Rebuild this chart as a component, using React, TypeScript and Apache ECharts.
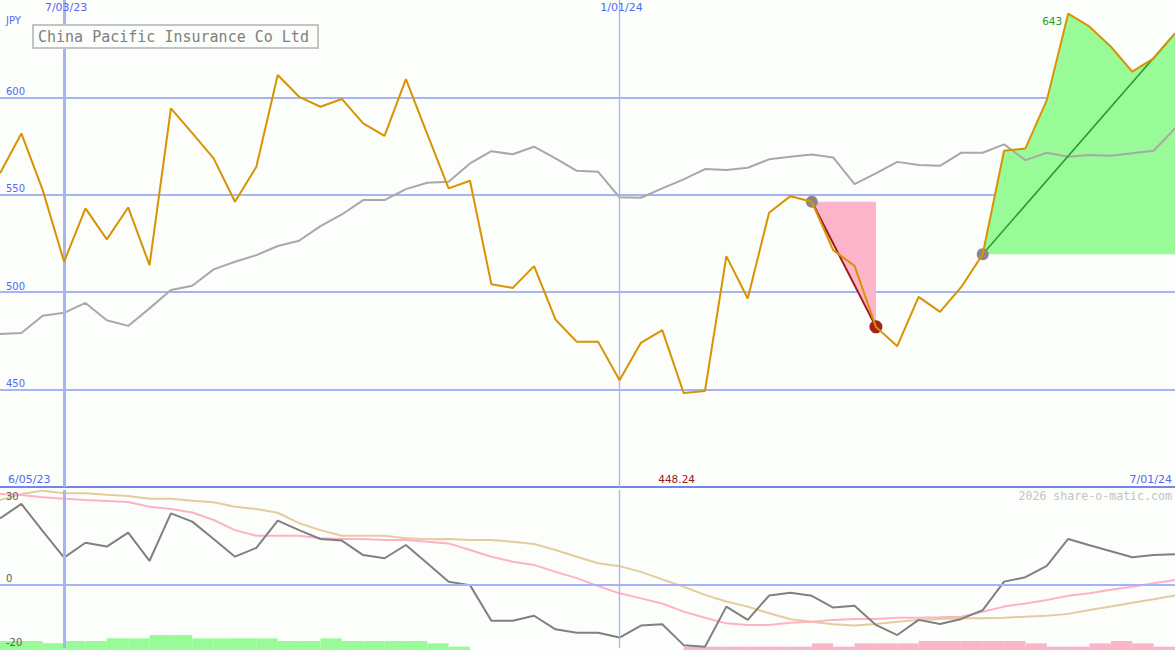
import React, { useEffect, useRef } from 'react';
import * as echarts from 'echarts';

const dates = [
  '6/12/23', '6/19/23', '6/26/23', '7/03/23', '7/10/23', '7/17/23', '7/24/23', '7/31/23',
  '8/07/23', '8/14/23', '8/21/23', '8/28/23', '9/04/23', '9/11/23', '9/18/23', '9/25/23',
  '10/02/23', '10/09/23', '10/16/23', '10/23/23', '10/30/23', '11/06/23', '11/13/23', '11/20/23',
  '11/27/23', '12/04/23', '12/11/23', '12/18/23', '12/25/23', '1/01/24', '1/08/24', '1/15/24',
  '1/22/24', '1/29/24', '2/05/24', '2/12/24', '2/19/24', '2/26/24', '3/04/24', '3/11/24',
  '3/18/24', '3/25/24', '4/01/24', '4/08/24', '4/15/24', '4/22/24', '4/29/24', '5/06/24',
  '5/13/24', '5/20/24', '5/27/24', '6/03/24', '6/10/24', '6/17/24', '6/24/24', '7/01/24',
];

const price = [
  561.0, 581.5, 552.4, 515.6, 543.0, 527.1, 543.5, 513.9, 594.4, 581.7,
  568.7, 546.4, 564.4, 611.5, 600.3, 595.2, 599.2, 586.7, 580.3, 609.4,
  581.2, 553.3, 557.2, 504.1, 502.2, 513.4, 486.0, 474.5, 474.5, 454.8,
  474.0, 480.5, 448.24, 449.3, 518.5, 496.8, 540.8, 549.3, 546.4, 521.6,
  513.5, 482.2, 472.3, 497.6, 489.9, 502.7, 519.5, 572.6, 573.8, 598.6,
  643.0, 636.3, 626.0, 613.2, 620.0, 632.9,
];

const average = [
  478.5, 479.1, 487.9, 489.4, 494.5, 485.6, 482.7, 491.7, 501.1, 503.3,
  511.7, 515.6, 519.0, 523.7, 526.4, 533.9, 539.9, 547.3, 547.3, 552.9,
  556.2, 556.7, 566.1, 572.4, 570.8, 574.7, 568.7, 562.3, 561.8, 548.7,
  548.5, 553.3, 557.9, 563.2, 562.7, 563.9, 568.2, 569.5, 570.7, 569.2,
  555.5, 561.0, 566.9, 565.3, 564.9, 571.6, 571.6, 575.9, 567.8, 571.6,
  569.5, 570.4, 570.0, 571.3, 572.6, 584.1,
];

const oscFast = [
  21.0, 25.6, 17.0, 8.6, 13.3, 12.1, 16.5, 7.6, 22.6, 20.0,
  14.5, 8.9, 11.7, 20.3, 17.3, 14.5, 14.0, 9.4, 8.4, 12.6,
  6.8, 1.0, -0.1, -11.4, -11.4, -9.8, -14.1, -15.2, -15.2, -16.7,
  -12.9, -12.5, -19.1, -19.6, -6.9, -11.1, -3.4, -2.5, -3.5, -7.2,
  -6.6, -12.7, -15.9, -11.1, -12.4, -10.8, -8.0, 1.0, 2.4, 6.0,
  14.5, 12.5, 10.6, 8.7, 9.4, 9.7,
];

const oscPink = [
  28.7, 28.4, 27.7, 27.2, 26.8, 26.5, 26.2, 24.7, 24.0, 22.9,
  20.5, 17.3, 15.5, 15.5, 15.5, 14.7, 14.5, 14.5, 14.2, 14.2,
  13.6, 13.1, 11.0, 8.9, 7.3, 6.3, 4.1, 2.1, -0.4, -2.7,
  -4.3, -5.9, -8.5, -10.4, -12.2, -12.7, -12.7, -12.0, -11.7, -11.1,
  -10.8, -10.8, -10.4, -10.4, -10.3, -10.1, -8.5, -6.9, -5.9, -4.8,
  -3.5, -2.7, -1.6, -0.6, 0.5, 1.5,
];

const oscTan = [
  26.8, 28.7, 29.8, 29.0, 29.0, 28.5, 28.1, 27.2, 27.2, 26.6,
  26.1, 24.7, 24.0, 22.8, 19.5, 17.3, 15.5, 15.5, 15.5, 14.7,
  14.4, 14.5, 14.2, 14.2, 13.6, 12.9, 11.0, 8.9, 6.8, 5.9,
  4.1, 1.7, -0.6, -3.2, -5.3, -6.9, -9.0, -10.9, -11.7, -12.5,
  -12.9, -12.4, -11.7, -11.1, -10.8, -10.6, -10.6, -10.4, -10.1, -9.8,
  -9.2, -8.0, -6.9, -5.7, -4.6, -3.4,
];

// weekly histogram steps, one per interval between two dates
const histGreen = [
  2.7, 2.7, 2, 2.7, 2.7, 3.5, 3.5, 4.5, 4.5, 3.5,
  3.5, 3.5, 3.5, 2.7, 2.7, 3.5, 2.7, 2.7, 2.7, 2.7,
  2, 1, 0, 0, 0, 0, 0, 0, 0, 0,
  0, 0, 0, 0, 0, 0, 0, 0, 0, 0,
  0, 0, 0, 0, 0, 0, 0, 0, 0, 0,
  0, 0, 0, 0, 0,
];
const histPink = [
  0, 0, 0, 0, 0, 0, 0, 0, 0, 0,
  0, 0, 0, 0, 0, 0, 0, 0, 0, 0,
  0, 0, 0, 0, 0, 0, 0, 0, 0, 0,
  0, 0, 1, 1, 1, 1, 1, 1, 2, 1,
  2, 2, 2, 2.7, 2.7, 2.7, 2.7, 2.7, 2, 1,
  1, 2, 2.7, 2, 1,
];

const yTicks = [450, 500, 550, 600];
const oscTicks = [30, 0, -20];
const markedDates = ['7/03/23', '1/01/24'];
const rangeStart = '6/05/23';
const rangeEnd = '7/01/24';
const title = 'China Pacific Insurance Co Ltd';
const currency = 'JPY';
const watermark = '2026 share-o-matic.com';

const dropFrom = 38;
const dropTo = 41;
const riseFrom = 46;
const riseTo = 55;

const BLUE = '#5468f0';
const GRID = '#a8b4f2';
const BG = '#fbfefb';
const LABEL_FONT = 'DejaVu Sans';

export default function App() {
  const ref = useRef<HTMLDivElement>(null);

  useEffect(() => {
    if (!ref.current) return;
    const chart = echarts.init(ref.current, undefined, { renderer: 'svg' });

    const bins = dates.slice(1);
    const maxIdx = price.indexOf(Math.max(...price));
    const minIdx = price.indexOf(Math.min(...price));
    const maxVal = price[maxIdx];
    const minVal = price[minIdx];

    const riseArea: number[][] = [];
    for (let i = riseFrom; i <= riseTo; i++) riseArea.push([i, price[i]]);
    riseArea.push([riseTo, price[riseFrom]]);

    const dropArea = [
      [dropFrom, price[dropFrom]],
      [dropTo, price[dropFrom]],
      [dropTo, price[dropTo]],
    ];

    const polygonSeries = (pts: number[][], color: string) => ({
      type: 'custom',
      xAxisIndex: 0,
      yAxisIndex: 0,
      z: 1,
      silent: true,
      data: [pts[0]],
      renderItem: (params: any, api: any) => {
        if (params.dataIndex !== 0) return null;
        return {
          type: 'polygon',
          shape: { points: pts.map((p) => api.coord(p)) },
          style: { fill: color },
        };
      },
    });

    const vLines = () =>
      markedDates.map((d, k) => ({
        xAxis: d,
        lineStyle: { color: GRID, width: k === 0 ? 3 : 1.3, type: 'solid', opacity: 1 },
      }));

    const option: any = {
      animation: false,
      backgroundColor: BG,
      grid: [
        { left: 0, top: 0, width: 1175, height: 487, outerBoundsMode: 'none' },
        { left: 0, top: 490, width: 1175, height: 158, outerBoundsMode: 'none' },
        { left: 0, top: 487, width: 1175, height: 163, outerBoundsMode: 'none' },
      ],
      xAxis: [
        {
          type: 'category', gridIndex: 0, data: dates, boundaryGap: false, position: 'top',
          axisLine: { show: false }, axisTick: { show: false }, splitLine: { show: false },
          axisLabel: { show: false },
        },
        {
          type: 'category', gridIndex: 0, data: dates, boundaryGap: false, position: 'bottom',
          axisLine: { show: true, lineStyle: { color: '#7484ec', width: 2 } },
          axisTick: { show: false }, axisLabel: { show: false }, splitLine: { show: false },
        },
        {
          type: 'category', gridIndex: 1, data: dates, boundaryGap: false,
          axisLine: { show: false }, axisTick: { show: false }, axisLabel: { show: false }, splitLine: { show: false },
        },
        {
          type: 'category', gridIndex: 2, data: bins, boundaryGap: true,
          axisLine: { show: false }, axisTick: { show: false }, axisLabel: { show: false }, splitLine: { show: false },
        },
      ],
      yAxis: [
        {
          type: 'value', gridIndex: 0, min: 400, max: 650, interval: 50,
          axisLine: { show: false }, axisTick: { show: false },
          splitLine: { show: true, showMinLine: false, showMaxLine: false, lineStyle: { color: GRID, width: 2 } },
          axisLabel: {
            inside: true, margin: 6, color: BLUE, fontSize: 10, fontFamily: LABEL_FONT,
            showMinLabel: false, showMaxLabel: false,
            formatter: (v: number) => (yTicks.includes(v) ? `{b|${v}}` : ''),
            rich: {
              b: { padding: [0, 0, 12, 0], color: BLUE, fontSize: 10, fontFamily: LABEL_FONT },
            },
          },
        },
        {
          type: 'value', gridIndex: 1, min: -20, max: 30, interval: 10, z: 10,
          axisLine: { show: false }, axisTick: { show: false }, splitLine: { show: false },
          axisLabel: {
            inside: true, margin: 6, color: '#606060', fontSize: 10, fontFamily: LABEL_FONT,
            formatter: (v: number) => {
              if (!oscTicks.includes(v)) return '';
              return v === oscTicks[0] ? `{t|${v}}` : `{b|${v}}`;
            },
            rich: {
              t: { padding: [12, 0, 0, 0], color: '#606060', fontSize: 10, fontFamily: LABEL_FONT },
              b: { padding: [0, 0, 12, 0], color: '#606060', fontSize: 10, fontFamily: LABEL_FONT },
            },
          },
        },
        { type: 'value', gridIndex: 2, min: 0, max: 49, show: false },
      ],
      series: [
        polygonSeries(riseArea, '#98fb98'),
        polygonSeries(dropArea, '#fbb4c9'),
        {
          type: 'line', xAxisIndex: 0, yAxisIndex: 0, data: average, z: 2,
          symbol: 'none', lineStyle: { color: '#a8a8a8', width: 2 }, silent: true,
          markLine: { symbol: ['none', 'none'], silent: true, label: { show: false }, data: vLines() },
        },
        {
          type: 'line', xAxisIndex: 0, yAxisIndex: 0, z: 3, symbol: 'none', silent: true,
          data: [[dropFrom, price[dropFrom]], [dropTo, price[dropTo]]],
          lineStyle: { color: '#a01c1c', width: 2 },
        },
        {
          type: 'line', xAxisIndex: 0, yAxisIndex: 0, z: 3, symbol: 'none', silent: true,
          data: [[riseFrom, price[riseFrom]], [riseTo, price[riseTo]]],
          lineStyle: { color: '#2a9a2a', width: 1.5 },
        },
        {
          type: 'scatter', xAxisIndex: 0, yAxisIndex: 0, z: 4, silent: true,
          itemStyle: { opacity: 1 },
          data: [
            { value: [dropFrom, price[dropFrom]], symbolSize: 12, itemStyle: { color: '#888888', opacity: 1 } },
            { value: [dropTo, price[dropTo]], symbolSize: 13, itemStyle: { color: '#a82020', opacity: 1 } },
            { value: [riseFrom, price[riseFrom]], symbolSize: 12, itemStyle: { color: '#888888', opacity: 1 } },
          ],
        },
        {
          type: 'line', xAxisIndex: 0, yAxisIndex: 0, data: price, z: 5,
          symbol: 'none', lineStyle: { color: '#d99200', width: 2 }, silent: true,
        },
        {
          type: 'scatter', xAxisIndex: 0, yAxisIndex: 0, z: 6, silent: true, clip: false,
          symbolSize: 0, itemStyle: { opacity: 1 },
          data: [
            {
              value: [maxIdx, maxVal],
              label: {
                show: true, position: 'left', distance: 6, offset: [0, 7],
                formatter: () => String(Math.round(maxVal)),
                color: '#229922', fontSize: 10.5, fontFamily: LABEL_FONT,
              },
            },
            {
              value: [minIdx, 400.5],
              label: {
                show: true, position: 'top', distance: 2, offset: [-7, 0],
                formatter: () => minVal.toFixed(2),
                color: '#a01818', fontSize: 10.5, fontFamily: LABEL_FONT,
              },
            },
            ...markedDates.map((d) => ({
              value: [dates.indexOf(d), 650],
              label: {
                show: true, position: 'bottom', distance: 2, offset: [2, 0],
                formatter: () => d,
                color: BLUE, fontSize: 11, fontFamily: LABEL_FONT,
              },
            })),
          ],
        },
        {
          type: 'bar', xAxisIndex: 3, yAxisIndex: 2, data: histGreen, z: 1, silent: true,
          barGap: '-100%', barCategoryGap: '0%', itemStyle: { color: '#98fb98' },
        },
        {
          type: 'bar', xAxisIndex: 3, yAxisIndex: 2, data: histPink, z: 1, silent: true,
          barGap: '-100%', barCategoryGap: '0%', itemStyle: { color: '#fbb5c8' },
        },
        {
          type: 'line', xAxisIndex: 2, yAxisIndex: 1, data: oscTan, z: 2,
          symbol: 'none', lineStyle: { color: '#e4cc9e', width: 2 }, silent: true,
          markLine: {
            symbol: ['none', 'none'], silent: true, label: { show: false },
            data: [...vLines(), { yAxis: 0, lineStyle: { color: GRID, width: 2, type: 'solid' } }],
          },
        },
        {
          type: 'line', xAxisIndex: 2, yAxisIndex: 1, data: oscPink, z: 3,
          symbol: 'none', lineStyle: { color: '#fdb2c8', width: 2 }, silent: true,
        },
        {
          type: 'line', xAxisIndex: 2, yAxisIndex: 1, data: oscFast, z: 3,
          symbol: 'none', lineStyle: { color: '#808080', width: 2 }, silent: true,
        },
      ],
      graphic: [
        { type: 'rect', silent: true, z: 10, shape: { x: 33, y: 25, width: 285, height: 23 }, style: { fill: BG, stroke: '#c4c4c4', lineWidth: 2 } },
        { type: 'text', silent: true, z: 11, x: 38, y: 37, style: { text: title, fill: '#808080', font: '15px "DejaVu Sans Mono"', verticalAlign: 'middle', align: 'left' } },
        { type: 'text', silent: true, z: 10, x: 6, y: 20, style: { text: currency, fill: BLUE, font: '10px "DejaVu Sans"', verticalAlign: 'middle', align: 'left' } },
        { type: 'text', silent: true, z: 10, x: 8, y: 479, style: { text: rangeStart, fill: BLUE, font: '11px "DejaVu Sans"', verticalAlign: 'middle', align: 'left' } },
        { type: 'text', silent: true, z: 10, x: 1172, y: 479, style: { text: rangeEnd, fill: BLUE, font: '11px "DejaVu Sans"', verticalAlign: 'middle', align: 'right' } },
        { type: 'text', silent: true, z: 10, x: 1172, y: 496, style: { text: watermark, fill: '#c4c4c4', font: '11.6px "DejaVu Sans Mono"', verticalAlign: 'middle', align: 'right' } },
      ],
    };

    chart.setOption(option);
    return () => chart.dispose();
  }, []);

  return (
    <div
      ref={ref}
      style={{ position: 'absolute', left: 0, top: 0, width: 1175, height: 650 }}
    />
  );
}
